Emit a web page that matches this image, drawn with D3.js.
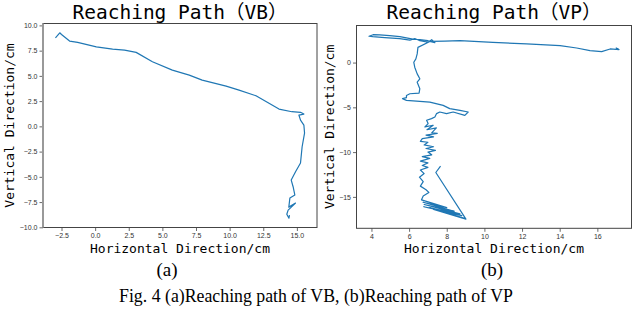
<!DOCTYPE html>
<html>
<head>
<meta charset="utf-8">
<script src="https://cdn.jsdelivr.net/npm/d3@7"></script>
<style>
  body { margin: 0; background: #fff; }
  svg { display: block; }
</style>
</head>
<body>
<div id="fig"></div>
<script>
// reaching path (VB), cm
const vbX = [-2.95, -2.63, -2.5, -1.9, -1.3, 0.09, 1.3, 2.19, 3.05, 4.26, 5.74, 7.0, 7.96, 9.74, 10.7, 11.96, 13.67, 14.63, 15.27, 15.52,
  15.15, 15.27, 15.52, 15.57, 15.39, 15.27, 14.9, 14.58, 14.72, 14.85, 14.48, 14.4, 14.9, 14.35, 14.25, 14.41, 14.45];
const vbY = [8.77, 9.27, 9.1, 8.45, 8.32, 7.88, 7.65, 7.55, 7.33, 6.4, 5.57, 5.08, 4.58, 3.99, 3.59, 3.03, 1.71, 1.45, 1.39, 1.22,
  1.12, 0.62, 0.13, -0.66, -2.02, -3.63, -4.5, -5.32, -5.98, -6.8, -7.1, -8.0, -7.6, -8.3, -8.7, -9.1, -8.8];

// reaching path (VP), cm
const vpX = [17.12, 17.0, 17.15, 16.68, 16.23, 15.61, 14.9, 14.02, 12.24, 10.45, 8.7, 7.9, 7.19, 7.0, 6.57, 6.2, 5.51, 4.97, 4.44, 4.09, 3.87,
  4.07, 4.71, 5.5, 6.04, 6.3, 6.57, 7.0, 7.2, 7.37, 7.1, 6.47, 6.43, 6.36, 6.25, 6.3, 6.43, 6.57, 6.43, 6.57, 6.53,
  6.04, 5.86, 5.86, 5.65, 5.86, 6.57, 7.1, 7.81, 8.16, 8.7, 9.14, 8.96, 8.34, 7.99, 7.63, 7.46, 7.37, 7.19, 6.93, 7.01, 6.84,
  7.28, 6.95, 7.45, 7.2, 7.5, 6.9, 7.3, 6.7, 6.6, 7.0, 6.8, 7.3, 6.9, 7.4, 7.0, 7.2, 6.7, 7.1, 6.6, 7.0, 6.7, 7.0, 6.6, 6.8,
  6.55, 6.75, 6.6, 6.9, 7.05, 6.75, 6.66,
  8.0, 6.74, 8.4, 6.8, 8.7, 6.78, 8.8, 7.1, 8.95, 7.5, 8.6, 7.3, 9.02, 7.42, 7.67];
const vpY = [1.52, 1.62, 1.45, 1.52, 1.22, 1.33, 1.63, 1.89, 2.08, 2.26, 2.44, 2.39, 2.37, 2.44, 2.56, 2.61, 2.89, 3.0, 3.1, 3.11, 2.94,
  2.89, 2.78, 2.67, 2.5, 2.67, 2.44, 2.28, 2.56, 2.22, 2.35, 1.7, 0.97, 0.41, 0.03, -0.52, -1.26, -1.81, -2.19, -2.92, -3.41,
  -3.48, -3.67, -3.92, -4.03, -4.22, -4.33, -4.41, -4.78, -5.14, -5.33, -5.52, -5.89, -5.52, -5.7, -5.52, -5.7, -6.08, -6.26, -6.44, -6.81, -7.19,
  -7.0, -7.5, -7.3, -7.85, -7.9, -8.1, -8.3, -8.5, -8.8, -8.9, -9.2, -9.4, -9.6, -9.8, -10.0, -10.3, -10.5, -10.7, -11.0, -11.2, -11.5, -11.7, -12.0, -12.4,
  -12.8, -13.3, -13.8, -14.2, -14.5, -14.9, -15.33,
  -16.2, -15.6, -16.6, -15.85, -16.9, -16.1, -17.1, -16.2, -17.4, -16.5, -17.2, -16.4, -17.48, -12.28, -11.56];

const vbXTicks = [-2.5, 0, 2.5, 5, 7.5, 10, 12.5, 15];
const vbYTicks = [-10, -7.5, -5, -2.5, 0, 2.5, 5, 7.5, 10];
const vpXTicks = [4, 6, 8, 10, 12, 14, 16];
const vpYTicks = [-15, -10, -5, 0];

const titles = ["Reaching Path\uFF08VB\uFF09", "Reaching Path\uFF08VP\uFF09"];
const subLabels = ["(a)", "(b)"];
const xLabel = "Horizontal Direction/cm";
const yLabel = "Vertical Direction/cm";
const caption = "Fig. 4 (a)Reaching path of VB, (b)Reaching path of VP";

const width = 634;
const height = 310;
const mono = "'DejaVu Sans Mono', 'Noto Sans CJK SC', monospace";

const svg = d3.select("#fig")
  .append("svg")
    .attr("width", width)
    .attr("height", height);

// matplotlib style: data extent padded by 5%
function padded(vals) {
  const [a, b] = d3.extent(vals);
  const m = (b - a) * 0.05;
  return [a - m, b + m];
}

function panel(p) {
  const xs = p.xs, ys = p.ys;
  const xScale = d3.scaleLinear().domain(padded(xs)).range([p.left, p.right]);
  const yScale = d3.scaleLinear().domain(padded(ys)).range([p.bottom, p.top]);

  const g = svg.append("g");

  const line = d3.line()
    .x(i => xScale(xs[i]))
    .y(i => yScale(ys[i]));

  g.append("path")
    .datum(d3.range(xs.length))
    .attr("d", line)
    .attr("fill", "none")
    .attr("stroke", "#1f77b4")
    .attr("stroke-width", 1.2)
    .attr("stroke-linejoin", "round");

  // axes
  const xAxis = g.append("g")
    .attr("transform", `translate(0,${p.bottom})`)
    .call(d3.axisBottom(xScale).tickValues(p.xTicks).tickFormat(p.fmt)
      .tickSizeInner(3.5).tickSizeOuter(0).tickPadding(2));
  const yAxis = g.append("g")
    .attr("transform", `translate(${p.left},0)`)
    .call(d3.axisLeft(yScale).tickValues(p.yTicks).tickFormat(p.fmt)
      .tickSizeInner(3.5).tickSizeOuter(0).tickPadding(2));

  [xAxis, yAxis].forEach(a => {
    a.select(".domain").remove();
    a.selectAll(".tick line").attr("stroke", "#444").attr("stroke-width", 0.8);
    a.selectAll(".tick text")
      .attr("fill", "#333")
      .style("font-family", "'Liberation Sans', Arial, sans-serif")
      .style("font-size", "7px");
  });

  // frame
  g.append("rect")
    .attr("x", p.left)
    .attr("y", p.top)
    .attr("width", p.right - p.left)
    .attr("height", p.bottom - p.top)
    .attr("fill", "none")
    .attr("stroke", "#444")
    .attr("stroke-width", 1);
  if (p.leftSpine) {
    g.append("line")
      .attr("x1", p.left).attr("x2", p.left)
      .attr("y1", p.top).attr("y2", p.bottom)
      .attr("stroke", "#999")
      .attr("stroke-width", 2);
  }

  // title and labels
  g.append("text")
    .attr("x", (p.left + p.right) / 2)
    .attr("y", 19)
    .attr("text-anchor", "middle")
    .style("font-family", mono)
    .style("font-size", "19.5px")
    .text(p.title);

  g.append("text")
    .attr("x", (p.left + p.right) / 2)
    .attr("y", 253)
    .attr("text-anchor", "middle")
    .style("font-family", mono)
    .style("font-size", "13px")
    .text(xLabel);

  g.append("text")
    .attr("transform", `translate(${p.yLabelX},${(p.top + p.bottom) / 2}) rotate(-90)`)
    .attr("text-anchor", "middle")
    .style("font-family", mono)
    .style("font-size", "13px")
    .text(yLabel);

  g.append("text")
    .attr("x", p.subX)
    .attr("y", 276)
    .attr("text-anchor", "middle")
    .style("font-family", "'Liberation Serif', 'Times New Roman', serif")
    .style("font-size", "19px")
    .text(p.sub);
}

panel({
  xs: vbX, ys: vbY, xTicks: vbXTicks, yTicks: vbYTicks,
  fmt: d3.format(".1f"),
  left: 43, right: 317, top: 23.5, bottom: 227.5,
  title: titles[0], sub: subLabels[0], subX: 167, yLabelX: 14,
  leftSpine: true
});

panel({
  xs: vpX, ys: vpY, xTicks: vpXTicks, yTicks: vpYTicks,
  fmt: d3.format("d"),
  left: 356.5, right: 631.5, top: 25.5, bottom: 228.3,
  title: titles[1], sub: subLabels[1], subX: 492, yLabelX: 333.5,
  leftSpine: false
});

svg.append("text")
  .attr("x", 316)
  .attr("y", 302)
  .attr("text-anchor", "middle")
  .style("font-family", "'Liberation Serif', 'Times New Roman', serif")
  .style("font-size", "17.8px")
  .text(caption);
</script>
</body>
</html>
